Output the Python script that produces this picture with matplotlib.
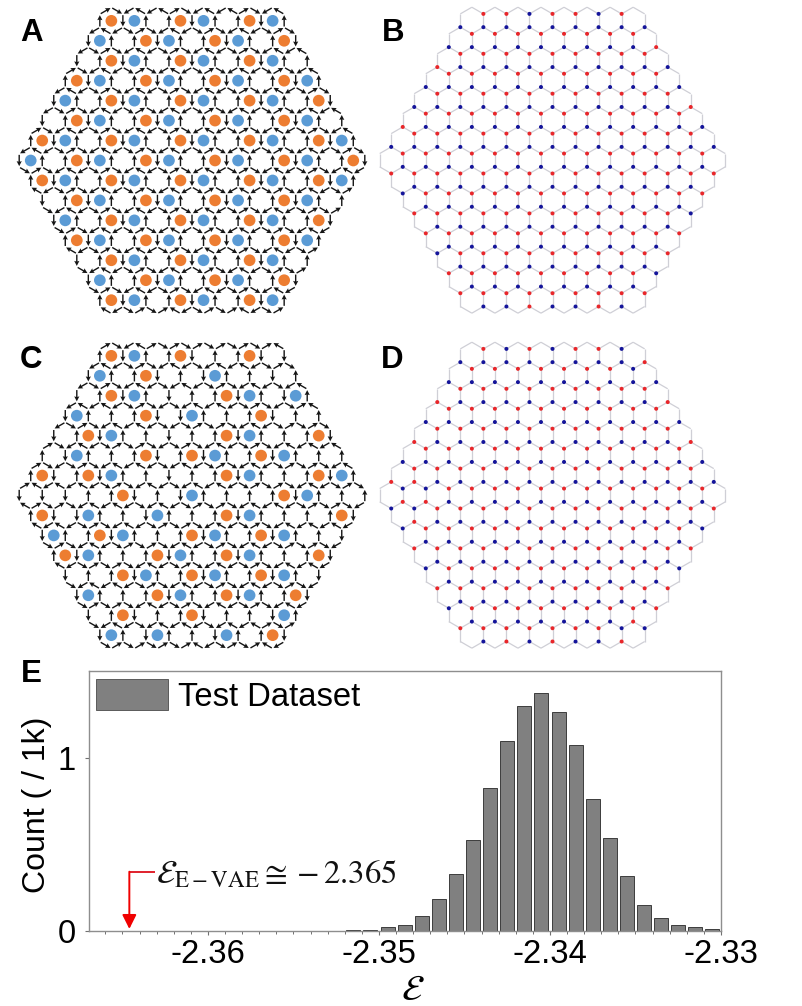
import sys
import math
import matplotlib
matplotlib.use("Agg")
import matplotlib.pyplot as plt
from matplotlib.ticker import MultipleLocator
from matplotlib.patches import Circle, Patch
from matplotlib.collections import LineCollection

sys.setrecursionlimit(5000)

# ---------- data ----------
cells_A = ["OB.OB.OB", "B.OB.OB.O", ".OB.OB.OB.", "OB.OB.OB.OB", "B.OB.OB.OB.O",
           ".OB.OB.OB.OB.", "OB.OB.OB.OB.OB", "B.OB.OB.OB.OB.O", "OB.OB.OB.OB.OB",
           ".OB.OB.OB.OB.", "B.OB.OB.OB.O", "OB.OB.OB.OB", ".OB.OB.OB.", "B.OB.OB.O", "OB.OB.OB"]
cells_C = ["OB.O..O.", "B.O..B...", ".OB...OB.B", "B..O.B..O..", ".OB....OB..O",
           ".B..O.OB.OB..", "O.OB....OB..OB", "....O..B...OB..", "O.B..B..OB...O",
           "B.OB..OB.OB..", "OB..OB.OB..O", "..OB.OB.OB.", "B..OB.OB.O", ".O..O...B", "B.B..B.O"]
charges_B = ["RRBRRBR", "BBBBBBBBB", "RRRRRRRR", "BBBBBBBBBR", "RRRRRRRRR", "RBBBBBBBBBB",
             "RRRRRRRRRR", "BBBBBBBBBBBB", "RRRRRRRRRRR", "BBBBBBBBBBBBR", "RRRRRRRRRRRR",
             "RBBBBBBBBBBBBB", "RRRRRRRRRRRRR", "BBBBBBBBBBBBBBB", "RRRRRRRRRRRRRR",
             "BBBBBBBBBBBBBB", "RRRRRRRRRRRRRRR", "BBBBBBBBBBBBB", "BRRRRRRRRRRRRR",
             "BBBBBBBBBBBB", "RRRRRRRRRRRRB", "BBBBBBBBBBB", "RRRRRRRRRRRR", "BBBBBBBBBB",
             "BRRRRRRRRRR", "BBBBBBBBB", "RRRRRRRRRB", "BBBBBBBB", "RRRRRRRRR", "BBRBBRB"]
charges_D = ["RBRBRRB", "BBBBBBBBR", "RRRRRRRB", "BBBBBBBBBB", "RRRRRRRRR", "RBBBBBBBBBR",
             "RRRRRRRRRR", "BBBBBBBBBBBB", "RRRRRRRRRRR", "RBBBBBBBBBBBR", "RRRRRRRRRRRR",
             "BBBBBBBBBBBBBB", "RRRRRRRRRRRRR", "RRBBBBBBBBBBBBB", "BBRRRRRRRRRRRR",
             "RRBBBBBBBBBBBB", "BBRRRRRRRRRRRRR", "RBBBBBBBBBBBB", "BRRRRRRRRRRRRB",
             "BBBBBBBBBBBB", "RRRRRRRRRRRRR", "BBBBBBBBBBB", "BRRRRRRRRRRB", "BBBBBBBBBB",
             "RRRRRRRRRRR", "BBBBBBBBB", "BRRRRRRRRR", "BBBBBBBR", "RRRRRRRBB", "BRBRBBR"]

bin_centers = [-2.3515, -2.3505, -2.3495, -2.3485, -2.3475, -2.3465, -2.3455, -2.3445, -2.3435,
               -2.3425, -2.3415, -2.3405, -2.3395, -2.3385, -2.3375, -2.3365, -2.3355, -2.3345,
               -2.3335, -2.3325, -2.3315, -2.3305]
counts = [0.003, 0.003, 0.025, 0.035, 0.087, 0.183, 0.330, 0.527, 0.828, 1.102, 1.301, 1.380,
          1.268, 1.075, 0.763, 0.537, 0.320, 0.151, 0.077, 0.033, 0.021, 0.010]
x_ticks = [-2.36, -2.35, -2.34, -2.33]
x_tick_labels = ["-2.36", "-2.35", "-2.34", "-2.33"]
y_ticks = [0, 1]
y_tick_labels = ["0", "1"]
evae_value = -2.3646
series_name = "Test Dataset"

# ---------- styling ----------
W, H = 802, 1006
plt.rcParams["font.family"] = ["Liberation Sans", "DejaVu Sans"]
plt.rcParams["mathtext.fontset"] = "stix"
ORANGE, LBLUE = "#ed7d31", "#5b9bd5"
RED, NAVY = "#e8262a", "#14149a"
SQ3 = math.sqrt(3)
PITCH = 23.04                 # pixels between neighbouring hexagon centres
A_PX = PITCH / SQ3
CORNERS = [(0, 2), (1, 1), (1, -1), (0, -2), (-1, -1), (-1, 1)]  # clockwise, lattice units

fig = plt.figure(figsize=(W / 100, H / 100), dpi=100)


def lattice_axes(cx, cy):
    hw, hh = 180.0, 165.0
    ax = fig.add_axes([(cx - hw) / W, 1 - (cy + hh) / H, 2 * hw / W, 2 * hh / H])
    ax.set_xlim(-hw / A_PX, hw / A_PX)
    ax.set_ylim(-hh / A_PX, hh / A_PX)
    ax.axis("off")
    ax.patch.set_alpha(0)
    return ax


def cell_iter(cells):
    for r, row in enumerate(cells):
        for c, lab in enumerate(row):
            yield 2 * c - (len(row) - 1), (7 - r) * 3, lab


def xy(v):
    return v[0] * SQ3 / 2, v[1] / 2


def charge_map(rows):
    out = {}
    idx = 0
    for r in range(15):
        base = (7 - r) * 3
        for off in (1, -1):
            s = rows[idx]
            idx += 1
            for k, ch in enumerate(s):
                out[(2 * k - (len(s) - 1), base + off)] = ch
    return out


def all_edges(cells):
    edges = {}
    for ix, iy, _ in cell_iter(cells):
        vs = [(ix + a, iy + b) for a, b in CORNERS]
        for i in range(6):
            edges[frozenset((vs[i], vs[(i + 1) % 6]))] = (vs[i], vs[(i + 1) % 6])
    return edges


def orient(cells, charges):
    """Loops of the circled hexagons first, then an ice-rule assignment from the vertex charges."""
    edges = all_edges(cells)
    head = {}
    for ix, iy, lab in cell_iter(cells):
        if lab == ".":
            continue
        vs = [(ix + a, iy + b) for a, b in CORNERS]
        if lab == "B":
            vs = vs[::-1]
        for i in range(6):
            a, b = vs[i], vs[(i + 1) % 6]
            head.setdefault(frozenset((a, b)), (a, b))
    need = {v: (2 if ch == "R" else 1) for v, ch in charges.items()}
    for a, b in head.values():
        if b in need:
            need[b] -= 1
    at_vertex = {}
    for key, (a, b) in edges.items():
        if key not in head:
            at_vertex.setdefault(a, []).append(key)
            at_vertex.setdefault(b, []).append(key)
    assign = {}

    def augment(v, seen):
        for e in at_vertex.get(v, []):
            if e in seen:
                continue
            seen.add(e)
            if e not in assign or augment(assign[e], seen):
                assign[e] = v
                return True
        return False

    for v in sorted(need):
        for _ in range(max(need[v], 0)):
            augment(v, set())
    result = []
    for key, (a, b) in edges.items():
        if key in head:
            result.append(head[key])
        elif key in assign:
            h = assign[key]
            result.append(((a if h == b else b), h))
        else:
            a2, b2 = sorted((a, b), key=lambda v: v in charges)
            result.append((b2, a2))
    return result


def draw_arrows(cx, cy, cells, charges):
    ax = lattice_axes(cx, cy)
    for ix, iy, lab in cell_iter(cells):
        if lab != ".":
            x, y = xy((ix, iy))
            ax.add_patch(Circle((x, y), 0.44, fc=ORANGE if lab == "O" else LBLUE, ec="none", zorder=1))
    X, Y, U, V = [], [], [], []
    for a, b in orient(cells, charges):
        xa, ya = xy(a)
        xb, yb = xy(b)
        X.append((xa + xb) / 2)
        Y.append((ya + yb) / 2)
        U.append((xb - xa) * 0.85)
        V.append((yb - ya) * 0.85)
    ax.quiver(X, Y, U, V, angles="xy", scale_units="xy", scale=1, units="xy", width=0.105,
              headwidth=3.7, headlength=3.6, headaxislength=3.2, pivot="mid", color="#151515", zorder=2)


def draw_charges(cx, cy, cells, charges):
    ax = lattice_axes(cx, cy)
    segs = [(xy(a), xy(b)) for a, b in all_edges(cells).values()]
    ax.add_collection(LineCollection(segs, colors="#cfcfd6", linewidths=0.9, zorder=1))
    for v, ch in charges.items():
        x, y = xy(v)
        ax.add_patch(Circle((x, y), 0.15, fc=RED if ch == "R" else NAVY, ec="none", zorder=2))


draw_arrows(192, 160.5, cells_A, charge_map(charges_B))
draw_charges(552.5, 160.2, cells_A, charge_map(charges_B))
draw_arrows(192, 495.5, cells_C, charge_map(charges_D))
draw_charges(552.5, 495.2, cells_C, charge_map(charges_D))

for lab, px, py in [("A", 20, 41), ("B", 382, 41), ("C", 20, 368), ("D", 381, 368), ("E", 21, 682)]:
    fig.text(px / W, 1 - py / H, lab, fontsize=22.5, fontweight="bold", color="k", ha="left", va="baseline")

# ---------- histogram ----------
L, R, T, B = 88.7, 721.0, 671.0, 931.0
FS = 23.6
ax = fig.add_axes([L / W, 1 - B / H, (R - L) / W, (B - T) / H])
bars = ax.bar(bin_centers, counts, width=0.00082, color="#808080", edgecolor="#3c3c3c", linewidth=0.7,
              label=series_name)
ax.set_xlim(-2.33 - (R - L) / 171.0 * 0.01, -2.33)
ax.set_ylim(0, (B - T) / 172.7)
ax.set_xticks(x_ticks)
ax.set_xticklabels(x_tick_labels)
ax.set_yticks(y_ticks)
ax.set_yticklabels(y_tick_labels)
ax.xaxis.set_minor_locator(MultipleLocator(0.001))
ax.tick_params(axis="both", which="major", length=3, width=0.8, color="#707070", labelsize=FS, pad=3)
ax.tick_params(axis="y", pad=6)
ax.tick_params(axis="x", which="minor", length=2, width=0.7, color="#707070")
for s in ax.spines.values():
    s.set_color("#8e8e8e")
    s.set_linewidth(1.0)

ax.set_ylabel("Count ( / 1k)", fontsize=23)
ax.yaxis.set_label_coords((51.5 - L) / (R - L), (B - 804.5) / (B - T))
ax.set_xlabel(r"$\mathcal{E}$", fontsize=26, va="top")
ax.xaxis.set_label_coords((413 - L) / (R - L), (B - 973) / (B - T))

handle = Patch(fc="#808080", ec="#5a5a5a", lw=0.7)
ax.legend([handle], [series_name], loc="upper left",
          bbox_to_anchor=((96.3 - L) / (R - L), (B - 679) / (B - T)),
          frameon=False, fontsize=FS, borderpad=0, borderaxespad=0,
          handlelength=72 / 32.8, handleheight=35 / 32.8, handletextpad=0.3)

elbow_y = (B - 871.7) / 172.7
elbow_x = evae_value + (155 - 129.3) / 17100
ax.plot([evae_value, elbow_x], [elbow_y, elbow_y], color="#e0202c", lw=1.4, solid_capstyle="butt")
ax.annotate("", xy=(evae_value, 0.012), xytext=(evae_value, elbow_y),
            arrowprops=dict(arrowstyle="-|>,head_length=0.5,head_width=0.25", mutation_scale=17, lw=1.4,
                            color="#f00000", shrinkA=0, shrinkB=0))
ax.text(evae_value + (156 - 129.3) / 17100, (B - 884) / 172.7,
        r"$\mathcal{E}_{\mathrm{E-VAE}}\cong-2.365$", fontsize=FS, ha="left", va="baseline", color="#111111")

fig.savefig("out.png", dpi=100, facecolor="white")
